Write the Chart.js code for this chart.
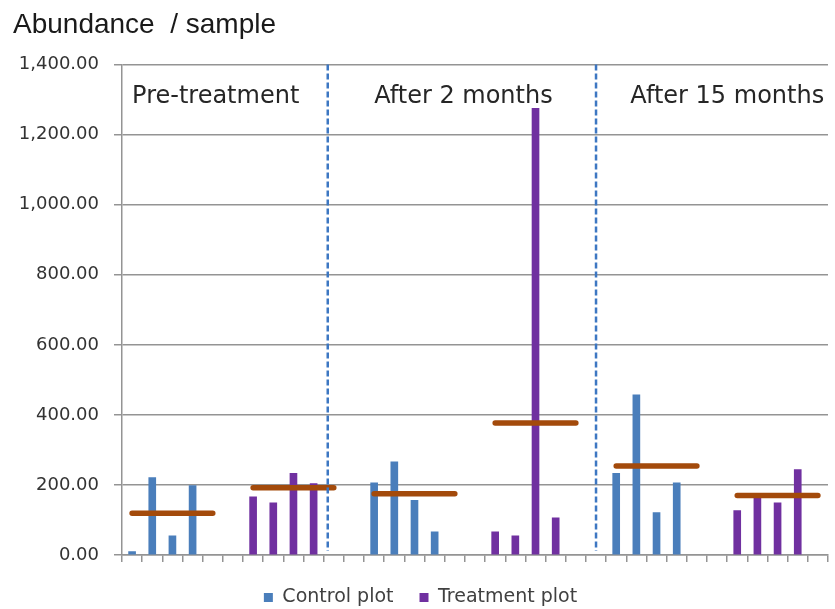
<!DOCTYPE html>
<html>
<head>
  <title>Abundance / sample</title>
  <script src="https://cdn.jsdelivr.net/npm/chart.js@4.4.1/dist/chart.umd.min.js"></script>
  <style>
    body { margin: 0; background: #fff; overflow: hidden; }
    #wrap { width: 835px; height: 617px; }
  </style>
</head>
<body>
<div id="wrap"><canvas id="myChart"></canvas></div>
<script>
// values, 4 samples per period
const periods = ['Pre-treatment', 'After 2 months', 'After 15 months'];
const controlPlot = [10, 221, 55, 198, 206, 266, 156, 66, 233, 457, 121, 206];
const treatmentPlot = [166, 149, 233, 204, 66, 55, 1275, 106, 127, 165, 149, 244];
const controlMean = [119, 175, 254];
const treatmentMean = [192, 377, 170];
const yTicks = [0, 200, 400, 600, 800, 1000, 1200, 1400];

// slot layout on the x axis (12 slots per period, last one cut short)
const slotsPerPeriod = 12;
const totalSlots = 35;
const separators = [9.7, 23];      // dashed period lines, in slot units
const labelSlots = [0, 12, 24.7];  // where the period captions start

const labels = [];
const controlData = [];
const treatmentData = [];
const meanData = [];
for (let s = 0; s < totalSlots; s++) {
  const p = Math.floor(s / slotsPerPeriod);
  const k = s % slotsPerPeriod;
  labels.push('');
  controlData.push(k < 4 ? controlPlot[p * 4 + k] : null);
  treatmentData.push(k >= 6 && k < 10 ? treatmentPlot[p * 4 + k - 6] : null);
  if (k <= 4) meanData.push(controlMean[p]);
  else if (k >= 6 && k <= 10) meanData.push(treatmentMean[p]);
  else meanData.push(null);
}

const periodMarks = {
  id: 'periodMarks',
  afterDatasetsDraw(chart) {
    const {ctx, chartArea, scales: {x, y}} = chart;
    ctx.save();
    ctx.strokeStyle = '#3d77c2';
    ctx.lineWidth = 2.5;
    ctx.setLineDash([6, 3]);
    separators.forEach(v => {
      const px = x.getPixelForValue(v);
      ctx.beginPath();
      ctx.moveTo(px, chartArea.top);
      ctx.lineTo(px, chartArea.bottom - 4);
      ctx.stroke();
    });
    ctx.setLineDash([]);
    ctx.font = '24px "DejaVu Sans"';
    ctx.fillStyle = '#262626';
    ctx.textBaseline = 'alphabetic';
    periods.forEach((p, i) => {
      ctx.fillText(p, x.getPixelForValue(labelSlots[i]), y.getPixelForValue(1290));
    });
    ctx.restore();
  }
};

const gridGrey = '#949494';
const ctx = document.getElementById('myChart').getContext('2d');
const myChart = new Chart(ctx, {
  type: 'bar',
  data: {
    labels: labels,
    datasets: [{
      label: 'Control plot',
      data: controlData,
      backgroundColor: '#4a7ebb',
      barThickness: 7,
      grouped: false,
      order: 1
    }, {
      label: 'Treatment plot',
      data: treatmentData,
      backgroundColor: '#7030a0',
      barThickness: 7,
      grouped: false,
      order: 1
    }, {
      type: 'line',
      label: 'Mean',
      data: meanData,
      borderColor: '#a34a0b',
      borderWidth: 5.5,
      borderCapStyle: 'round',
      pointRadius: 0,
      spanGaps: false,
      order: 0
    }]
  },
  options: {
    responsive: true,
    maintainAspectRatio: false,
    animation: false,
    layout: { padding: { top: 8, left: 13, right: 7, bottom: 0 } },
    plugins: {
      title: {
        display: true,
        text: 'Abundance  / sample',
        align: 'start',
        color: '#1a1a1a',
        font: { family: 'Liberation Sans', size: 28, weight: 'normal' },
        padding: { top: 0, bottom: 23 }
      },
      legend: {
        position: 'bottom',
        labels: {
          boxWidth: 9,
          boxHeight: 9,
          padding: 26,
          color: '#404040',
          font: { family: 'DejaVu Sans', size: 19 },
          filter: item => item.datasetIndex < 2
        }
      },
      tooltip: { enabled: false }
    },
    scales: {
      x: {
        offset: true,
        grid: { offset: true, drawOnChartArea: false, drawTicks: true, tickLength: 7, color: gridGrey, lineWidth: 1.5 },
        border: { display: true, color: gridGrey, width: 1.5 },
        ticks: { display: false }
      },
      y: {
        min: yTicks[0],
        max: yTicks[yTicks.length - 1],
        afterFit(scale) { scale.width = 109; },
        afterBuildTicks(scale) { scale.ticks = yTicks.map(v => ({ value: v })); },
        grid: { color: gridGrey, lineWidth: 1.5, tickLength: 8 },
        border: { display: true, color: gridGrey, width: 1.5 },
        ticks: {
          padding: 15,
          color: '#333333',
          font: { family: 'DejaVu Sans', size: 18 },
          callback: v => v.toLocaleString('en-US', { minimumFractionDigits: 2, maximumFractionDigits: 2 })
        }
      }
    }
  },
  plugins: [periodMarks]
});
</script>
</body>
</html>
